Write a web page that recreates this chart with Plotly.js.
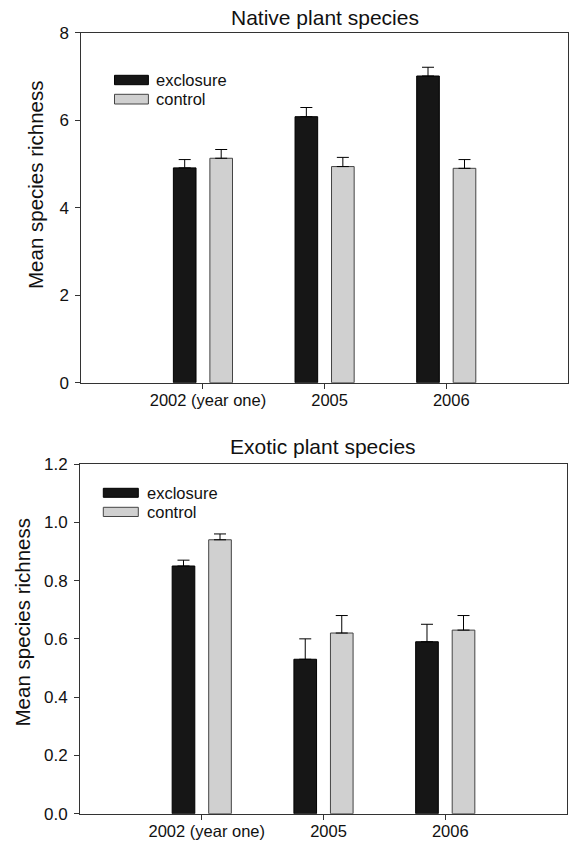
<!DOCTYPE html>
<html>
<head>
<meta charset="utf-8">
<script src="https://cdn.plot.ly/plotly-3.0.1.min.js"></script>
<style>html,body{margin:0;padding:0;background:#fff;}#chart{width:569px;height:843px;}</style>
</head>
<body>
<div id="chart"></div>
<script>
// ---- data ----
const categories = ['2002 (year one)', '2005', '2006'];
const seriesNames = ['exclosure', 'control'];

const nativeExclosure   = [4.91, 6.08, 7.01];
const nativeExclosureSE = [0.19, 0.21, 0.20];
const nativeControl     = [5.13, 4.94, 4.90];
const nativeControlSE   = [0.20, 0.21, 0.20];

const exoticExclosure   = [0.85, 0.53, 0.59];
const exoticExclosureSE = [0.02, 0.07, 0.06];
const exoticControl     = [0.94, 0.62, 0.63];
const exoticControlSE   = [0.02, 0.06, 0.05];

const panelTitles = ['Native plant species', 'Exotic plant species'];
const yTitle = 'Mean species richness';

// ---- styling ----
const W = 569, H = 843;
const FONT = '"Liberation Sans", Arial, Helvetica, sans-serif';
const TXT = '#111';
const fills = ['#161616', '#d0d0d0'];
const outlines = ['#000000', '#444444'];
const px = x => x / W;
const py = y => 1 - y / H;

function barTrace(y, se, i, xa, ya) {
  return {
    type: 'bar', x: categories, y: y, name: seriesNames[i],
    xaxis: xa, yaxis: ya, showlegend: false,
    marker: {color: fills[i], line: {color: outlines[i], width: 1}},
    error_y: {type: 'data', array: se, symmetric: false, arrayminus: se.map(() => 0),
              color: '#000', thickness: 1, width: 6},
    hoverinfo: 'skip'
  };
}

const data = [
  barTrace(nativeExclosure, nativeExclosureSE, 0, 'x', 'y'),
  barTrace(nativeControl, nativeControlSE, 1, 'x', 'y'),
  barTrace(exoticExclosure, exoticExclosureSE, 0, 'x2', 'y2'),
  barTrace(exoticControl, exoticControlSE, 1, 'x2', 'y2')
];

const axisCommon = {
  showline: true, linecolor: '#333', linewidth: 1, mirror: true,
  ticks: 'outside', ticklen: 5, tickwidth: 1, tickcolor: '#333',
  showgrid: false, zeroline: false, fixedrange: true,
  tickfont: {family: FONT, size: 17, color: TXT}
};
const xCommon = {ticklabelshift: 5, ticklabelstandoff: -3, tickfont: {family: FONT, size: 16.5, color: TXT}};
const yCommon = {ticklabelstandoff: 3};

const layout = {
  width: W, height: H,
  margin: {l: 0, r: 0, t: 0, b: 0},
  paper_bgcolor: '#fff', plot_bgcolor: '#fff',
  barmode: 'group', bargap: 0.4, bargroupgap: 0.38,
  showlegend: false,
  xaxis: Object.assign({}, axisCommon, xCommon, {domain: [px(81.3), px(567.9)], range: [-1, 3], type: 'category', anchor: 'y'}),
  yaxis: Object.assign({}, axisCommon, yCommon, {domain: [py(382.7), py(32.7)], range: [0, 8], dtick: 2, tick0: 0, anchor: 'x'}),
  xaxis2: Object.assign({}, axisCommon, xCommon, {domain: [px(80), px(567)], range: [-1, 3], type: 'category', anchor: 'y2'}),
  yaxis2: Object.assign({}, axisCommon, yCommon, {domain: [py(813.7), py(464)], range: [0, 1.2], dtick: 0.2, tick0: 0, tickformat: '.1f', anchor: 'x2'}),
  shapes: [],
  annotations: []
};

// panel titles
[[325, 17, panelTitles[0]], [323.5, 447, panelTitles[1]]].forEach(([x, y, t]) => {
  layout.annotations.push({xref: 'paper', yref: 'paper', x: px(x), y: py(y), text: t, showarrow: false,
    xanchor: 'center', yanchor: 'middle', font: {family: FONT, size: 21, color: TXT}});
});
// y-axis titles
[[36, 185], [22, 622.5]].forEach(([x, y]) => {
  layout.annotations.push({xref: 'paper', yref: 'paper', x: px(x), y: py(y), text: yTitle, showarrow: false,
    textangle: -90, xanchor: 'center', yanchor: 'middle', font: {family: FONT, size: 20.5, color: TXT}});
});
// legends (swatch boxes + labels)
const legends = [
  {x0: 114.5, x1: 148.4, rows: [[75.3, 84.7], [94.3, 104]], tx: 154},
  {x0: 103.3, x1: 138.3, rows: [[488.3, 497.3], [507.3, 516.5]], tx: 144.5}
];
legends.forEach(lg => {
  lg.rows.forEach(([y0, y1], i) => {
    layout.shapes.push({type: 'rect', xref: 'paper', yref: 'paper',
      x0: px(lg.x0), x1: px(lg.x1), y0: py(y1), y1: py(y0),
      fillcolor: fills[i], line: {color: outlines[i], width: 1}});
    layout.annotations.push({xref: 'paper', yref: 'paper', x: px(lg.tx), y: py((y0 + y1) / 2),
      text: seriesNames[i], showarrow: false, xanchor: 'left', yanchor: 'middle',
      font: {family: FONT, size: 16.5, color: TXT}});
  });
});

Plotly.newPlot('chart', data, layout, {displayModeBar: false, staticPlot: true});
</script>
</body>
</html>
